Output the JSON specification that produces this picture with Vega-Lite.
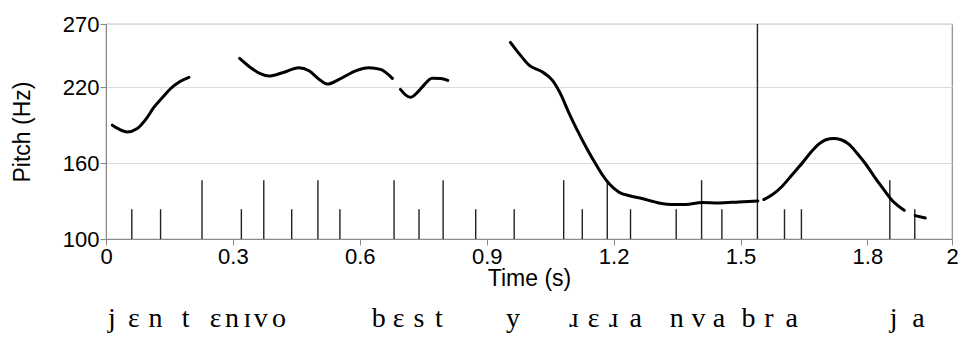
{
  "$schema": "https://vega.github.io/schema/vega-lite/v6.json",
  "autosize": {"type": "pad"},
  "padding": {"left": 10, "top": 12, "right": 0, "bottom": 0},
  "background": "white",
  "config": {
    "font": "Liberation Sans",
    "view": {"stroke": "#8a8a8a", "strokeWidth": 1.2},
    "concat": {"spacing": 68},
    "axis": {
      "domainColor": "#8a8a8a",
      "tickColor": "#8a8a8a",
      "labelColor": "#000",
      "titleColor": "#000",
      "labelFont": "Liberation Sans",
      "titleFont": "Liberation Sans",
      "labelFontSize": 22,
      "titleFontSize": 23,
      "titleFontWeight": "normal",
      "tickSize": 6,
      "labelPadding": 1,
      "gridColor": "#dcdcdc",
      "gridWidth": 1.2
    }
  },
  "bounds": "flush",
  "datasets": {
    "pitch": [
      {"seg": 1, "t": 0.015, "hz": 190},
      {"seg": 1, "t": 0.030, "hz": 187},
      {"seg": 1, "t": 0.050, "hz": 184.7},
      {"seg": 1, "t": 0.074, "hz": 187.4},
      {"seg": 1, "t": 0.095, "hz": 195},
      {"seg": 1, "t": 0.113, "hz": 204},
      {"seg": 1, "t": 0.135, "hz": 212.5},
      {"seg": 1, "t": 0.153, "hz": 219},
      {"seg": 1, "t": 0.175, "hz": 224.5},
      {"seg": 1, "t": 0.196, "hz": 227.8},
      {"seg": 2, "t": 0.316, "hz": 242.8},
      {"seg": 2, "t": 0.340, "hz": 236},
      {"seg": 2, "t": 0.366, "hz": 230.5},
      {"seg": 2, "t": 0.385, "hz": 228.8},
      {"seg": 2, "t": 0.417, "hz": 231.4},
      {"seg": 2, "t": 0.456, "hz": 235.4},
      {"seg": 2, "t": 0.480, "hz": 233},
      {"seg": 2, "t": 0.505, "hz": 226},
      {"seg": 2, "t": 0.523, "hz": 222.5},
      {"seg": 2, "t": 0.551, "hz": 226.2},
      {"seg": 2, "t": 0.590, "hz": 233},
      {"seg": 2, "t": 0.621, "hz": 235.4},
      {"seg": 2, "t": 0.649, "hz": 234.1},
      {"seg": 2, "t": 0.677, "hz": 227},
      {"seg": 3, "t": 0.696, "hz": 218.3},
      {"seg": 3, "t": 0.708, "hz": 214},
      {"seg": 3, "t": 0.720, "hz": 212},
      {"seg": 3, "t": 0.735, "hz": 215.5},
      {"seg": 3, "t": 0.748, "hz": 220.3},
      {"seg": 3, "t": 0.771, "hz": 227.2},
      {"seg": 3, "t": 0.791, "hz": 227},
      {"seg": 3, "t": 0.808, "hz": 225.4},
      {"seg": 4, "t": 0.956, "hz": 255.5},
      {"seg": 4, "t": 0.978, "hz": 246},
      {"seg": 4, "t": 1.000, "hz": 237.5},
      {"seg": 4, "t": 1.031, "hz": 232.2},
      {"seg": 4, "t": 1.055, "hz": 225.6},
      {"seg": 4, "t": 1.074, "hz": 215.1},
      {"seg": 4, "t": 1.094, "hz": 200},
      {"seg": 4, "t": 1.114, "hz": 186.1},
      {"seg": 4, "t": 1.136, "hz": 172},
      {"seg": 4, "t": 1.157, "hz": 159.7},
      {"seg": 4, "t": 1.175, "hz": 150},
      {"seg": 4, "t": 1.189, "hz": 143.9},
      {"seg": 4, "t": 1.212, "hz": 137.2},
      {"seg": 4, "t": 1.240, "hz": 134},
      {"seg": 4, "t": 1.267, "hz": 132},
      {"seg": 4, "t": 1.307, "hz": 128.5},
      {"seg": 4, "t": 1.342, "hz": 127.2},
      {"seg": 4, "t": 1.370, "hz": 127.2},
      {"seg": 4, "t": 1.409, "hz": 128.8},
      {"seg": 4, "t": 1.449, "hz": 128.5},
      {"seg": 4, "t": 1.496, "hz": 129.3},
      {"seg": 4, "t": 1.541, "hz": 130.1},
      {"seg": 5, "t": 1.555, "hz": 131.2},
      {"seg": 5, "t": 1.575, "hz": 135},
      {"seg": 5, "t": 1.598, "hz": 141.5},
      {"seg": 5, "t": 1.620, "hz": 150},
      {"seg": 5, "t": 1.645, "hz": 159.7},
      {"seg": 5, "t": 1.665, "hz": 168},
      {"seg": 5, "t": 1.685, "hz": 175},
      {"seg": 5, "t": 1.702, "hz": 178.5},
      {"seg": 5, "t": 1.720, "hz": 179.5},
      {"seg": 5, "t": 1.738, "hz": 178.5},
      {"seg": 5, "t": 1.756, "hz": 175},
      {"seg": 5, "t": 1.775, "hz": 168},
      {"seg": 5, "t": 1.795, "hz": 159.7},
      {"seg": 5, "t": 1.815, "hz": 150},
      {"seg": 5, "t": 1.834, "hz": 141.2},
      {"seg": 5, "t": 1.858, "hz": 130.6},
      {"seg": 5, "t": 1.887, "hz": 122.7},
      {"seg": 6, "t": 1.913, "hz": 118.5},
      {"seg": 6, "t": 1.937, "hz": 116.6}
    ],
    "marks": [
      {"t": 0.061, "top": 123.5},
      {"t": 0.129, "top": 123.5},
      {"t": 0.227, "top": 146.5},
      {"t": 0.320, "top": 123.5},
      {"t": 0.373, "top": 146.5},
      {"t": 0.439, "top": 123.5},
      {"t": 0.501, "top": 146.5},
      {"t": 0.553, "top": 123.5},
      {"t": 0.681, "top": 146.5},
      {"t": 0.740, "top": 123.5},
      {"t": 0.797, "top": 146.5},
      {"t": 0.874, "top": 123.5},
      {"t": 0.965, "top": 123.5},
      {"t": 1.082, "top": 146.5},
      {"t": 1.126, "top": 123.5},
      {"t": 1.185, "top": 146.5},
      {"t": 1.240, "top": 123.5},
      {"t": 1.348, "top": 123.5},
      {"t": 1.408, "top": 146.5},
      {"t": 1.456, "top": 123.5},
      {"t": 1.540, "top": 270},
      {"t": 1.604, "top": 123.5},
      {"t": 1.644, "top": 123.5},
      {"t": 1.853, "top": 146.5},
      {"t": 1.912, "top": 123.5}
    ],
    "ipa": [
      {"t": 0.014, "ch": "j"},
      {"t": 0.066, "ch": "ɛ"},
      {"t": 0.117, "ch": "n"},
      {"t": 0.188, "ch": "t"},
      {"t": 0.259, "ch": "ɛ"},
      {"t": 0.298, "ch": "n"},
      {"t": 0.334, "ch": "ɪ"},
      {"t": 0.366, "ch": "v"},
      {"t": 0.409, "ch": "o"},
      {"t": 0.645, "ch": "b"},
      {"t": 0.692, "ch": "ɛ"},
      {"t": 0.740, "ch": "s"},
      {"t": 0.787, "ch": "t"},
      {"t": 0.962, "ch": "y"},
      {"t": 1.106, "ch": "ɹ"},
      {"t": 1.153, "ch": "ɛ"},
      {"t": 1.200, "ch": "ɹ"},
      {"t": 1.252, "ch": "a"},
      {"t": 1.349, "ch": "n"},
      {"t": 1.401, "ch": "v"},
      {"t": 1.449, "ch": "a"},
      {"t": 1.519, "ch": "b"},
      {"t": 1.567, "ch": "r"},
      {"t": 1.621, "ch": "a"},
      {"t": 1.862, "ch": "j"},
      {"t": 1.921, "ch": "a"}
    ]
  },
  "vconcat": [
    {
      "width": 846,
      "height": 215,
      "layer": [
        {
          "data": {"name": "marks"},
          "mark": {"type": "rule", "color": "#222", "strokeWidth": 1.4},
          "encoding": {
            "x": {"field": "t", "type": "quantitative",
                  "scale": {"domain": [0, 2], "nice": false},
                  "axis": {"title": "Time (s)", "values": [0, 0.3, 0.6, 0.9, 1.2, 1.5, 1.8, 2], "format": "~g", "grid": false, "titlePadding": 0, "labelFlush": false}},
            "y": {"field": "top", "type": "quantitative",
                  "scale": {"domain": [100, 270], "nice": false, "zero": false},
                  "axis": {"title": "Pitch (Hz)", "values": [100, 160, 220, 270], "grid": true, "titlePadding": 28, "labelFlush": false}},
            "y2": {"datum": 100}
          }
        },
        {
          "data": {"name": "pitch"},
          "mark": {"type": "line", "color": "#000", "strokeWidth": 3, "strokeCap": "round", "strokeJoin": "round", "interpolate": "monotone"},
          "encoding": {
            "x": {"field": "t", "type": "quantitative"},
            "y": {"field": "hz", "type": "quantitative"},
            "detail": {"field": "seg", "type": "nominal"}
          }
        }
      ]
    },
    {
      "width": 846,
      "height": 40,
      "view": {"stroke": null},
      "data": {"name": "ipa"},
      "mark": {"type": "text", "font": "Liberation Serif", "fontSize": 28, "baseline": "alphabetic", "align": "center", "color": "#000"},
      "encoding": {
        "x": {"field": "t", "type": "quantitative", "scale": {"domain": [0, 2], "nice": false}, "axis": null},
        "text": {"field": "ch", "type": "nominal"}
      }
    }
  ]
}
